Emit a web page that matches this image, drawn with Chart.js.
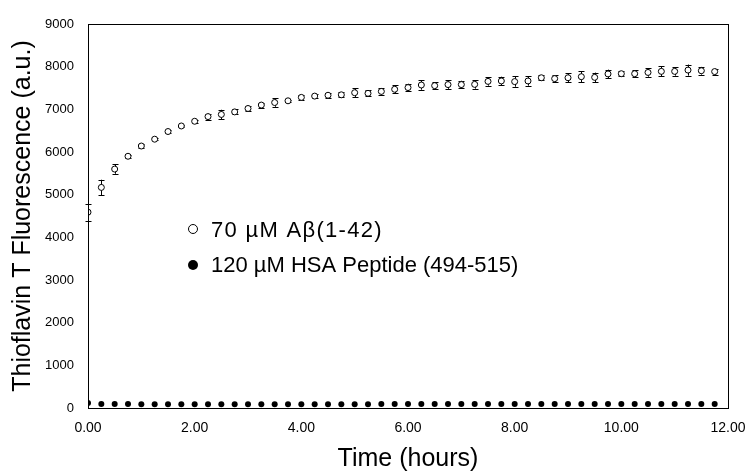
<!DOCTYPE html>
<html>
<head>
<meta charset="utf-8">
<title>Thioflavin T Fluorescence</title>
<script src="https://cdn.jsdelivr.net/npm/chart.js@4.4.0/dist/chart.umd.min.js"></script>
<style>
    html, body { margin: 0; padding: 0; background: #fff; }
    #wrap { width: 751px; height: 476px; }
</style>
</head>
<body>
<div id="wrap"><canvas id="thtChart" width="751" height="476"></canvas></div>
<script>
// time points, every 15 minutes
const timeHours = [
    0, 0.25, 0.5, 0.75, 1, 1.25, 1.5, 1.75, 2, 2.25, 2.5, 2.75,
    3, 3.25, 3.5, 3.75, 4, 4.25, 4.5, 4.75, 5, 5.25, 5.5, 5.75,
    6, 6.25, 6.5, 6.75, 7, 7.25, 7.5, 7.75, 8, 8.25, 8.5, 8.75,
    9, 9.25, 9.5, 9.75, 10, 10.25, 10.5, 10.75, 11, 11.25, 11.5, 11.75
];
// 70 uM Abeta(1-42)
const abetaValues = [
    4590, 5170, 5600, 5900, 6140, 6300, 6480, 6610, 6720, 6830, 6880, 6940,
    7020, 7100, 7160, 7200, 7280, 7310, 7330, 7340, 7390, 7375, 7420, 7470,
    7510, 7570, 7555, 7580, 7580, 7585, 7655, 7665, 7650, 7665, 7740, 7720,
    7740, 7765, 7750, 7830, 7835, 7835, 7865, 7890, 7890, 7920, 7905, 7885
];
const abetaErrors = [
    200, 180, 110, 40, 40, 30, 30, 30, 30, 70, 110, 60,
    50, 60, 100, 30, 50, 40, 60, 60, 100, 70, 80, 90,
    90, 110, 80, 100, 90, 100, 100, 100, 120, 110, 60, 80,
    100, 130, 110, 100, 60, 80, 100, 120, 100, 130, 90, 70
];
// 120 uM HSA peptide (494-515)
const hsaValues = [
    120, 95, 95, 92, 90, 90, 90, 88, 88, 88, 88, 90,
    90, 90, 90, 90, 90, 90, 90, 90, 90, 90, 92, 92,
    92, 92, 92, 92, 92, 92, 92, 92, 92, 92, 92, 92,
    92, 92, 92, 92, 92, 92, 92, 92, 92, 92, 92, 92
];
const xTicks = [0, 2, 4, 6, 8, 10, 12];
const seriesLabels = ['70 \u00b5M A\u03b2(1-42)', '120 \u00b5M HSA Peptide (494-515)'];

const font = '"Liberation Sans", Arial, sans-serif';

// error bars + frame, drawn with the chart's own scales
const errorBars = {
    id: 'errorBars',
    beforeDatasetsDraw(chart) {
        const { ctx, scales: { x, y } } = chart;
        ctx.save();
        ctx.strokeStyle = '#000';
        ctx.lineWidth = 1;
        timeHours.forEach((t, i) => {
            const px = Math.round(x.getPixelForValue(t)) + 0.5;
            const top = y.getPixelForValue(abetaValues[i] + abetaErrors[i]);
            const bot = y.getPixelForValue(abetaValues[i] - abetaErrors[i]);
            ctx.beginPath();
            ctx.moveTo(px, top); ctx.lineTo(px, bot);
            ctx.moveTo(px - 3, Math.round(top) + 0.5); ctx.lineTo(px + 3, Math.round(top) + 0.5);
            ctx.moveTo(px - 3, Math.round(bot) + 0.5); ctx.lineTo(px + 3, Math.round(bot) + 0.5);
            ctx.stroke();
        });
        ctx.restore();
    },
    afterDraw(chart) {
        const { ctx, chartArea: a } = chart;
        ctx.save();
        ctx.strokeStyle = '#000';
        ctx.lineWidth = 1;
        ctx.strokeRect(Math.round(a.left) + 0.5, Math.round(a.top) + 0.5,
            Math.round(a.right - a.left), Math.round(a.bottom - a.top));
        // legend inside the plot
        ctx.font = '22px ' + font;
        ctx.textBaseline = 'alphabetic';
        ctx.beginPath();
        ctx.arc(193, 229, 4.5, 0, Math.PI * 2);
        ctx.fillStyle = '#fff';
        ctx.fill();
        ctx.stroke();
        ctx.fillStyle = '#000';
        ctx.letterSpacing = '1.3px';
        ctx.fillText(seriesLabels[0], 211, 236.5);
        ctx.letterSpacing = '0px';
        ctx.beginPath();
        ctx.arc(193, 265, 5, 0, Math.PI * 2);
        ctx.fill();
        ctx.fillText(seriesLabels[1], 211, 271.5);
        ctx.restore();
    }
};

new Chart(document.getElementById('thtChart'), {
    type: 'scatter',
    data: {
        datasets: [
            {
                label: seriesLabels[0],
                data: timeHours.map((t, i) => ({ x: t, y: abetaValues[i] })),
                pointRadius: 3,
                pointBorderWidth: 1,
                pointBackgroundColor: '#fff',
                pointBorderColor: '#000'
            },
            {
                label: seriesLabels[1],
                data: timeHours.map((t, i) => ({ x: t, y: hsaValues[i] })),
                pointRadius: 3,
                pointBorderWidth: 0,
                pointBackgroundColor: '#000',
                pointBorderColor: '#000'
            }
        ]
    },
    options: {
        responsive: false,
        animation: false,
        layout: { padding: { top: 24, right: 23, left: 8, bottom: 2 } },
        plugins: {
            legend: { display: false },
            tooltip: { enabled: false }
        },
        scales: {
            x: {
                type: 'linear',
                min: 0,
                max: 12,
                afterBuildTicks(axis) { axis.ticks = xTicks.map(v => ({ value: v })); },
                afterFit(axis) {
                    axis.height = 66;
                    axis.paddingLeft = 0;
                    axis.paddingRight = 0;
                },
                grid: { display: false, drawTicks: false },
                border: { color: '#000', width: 1 },
                ticks: {
                    color: '#000',
                    font: { family: font, size: 14 },
                    padding: 12,
                    maxRotation: 0,
                    callback: v => v.toFixed(2)
                },
                title: {
                    display: true,
                    text: 'Time (hours)',
                    color: '#000',
                    font: { family: font, size: 25 },
                    padding: { top: 0, bottom: 0 }
                }
            },
            y: {
                min: 0,
                max: 9000,
                afterFit(axis) {
                    axis.width = 80;
                    axis.paddingTop = 0;
                    axis.paddingBottom = 0;
                },
                grid: { display: false, drawTicks: false },
                border: { color: '#000', width: 1 },
                ticks: {
                    stepSize: 1000,
                    color: '#000',
                    font: { family: font, size: 13 },
                    padding: 14,
                    callback: v => String(v)
                },
                title: {
                    display: true,
                    text: 'Thioflavin T Fluorescence (a.u.)',
                    color: '#000',
                    font: { family: font, size: 25 },
                    padding: { top: 0, bottom: 8 }
                }
            }
        }
    },
    plugins: [errorBars]
});
</script>
</body>
</html>
